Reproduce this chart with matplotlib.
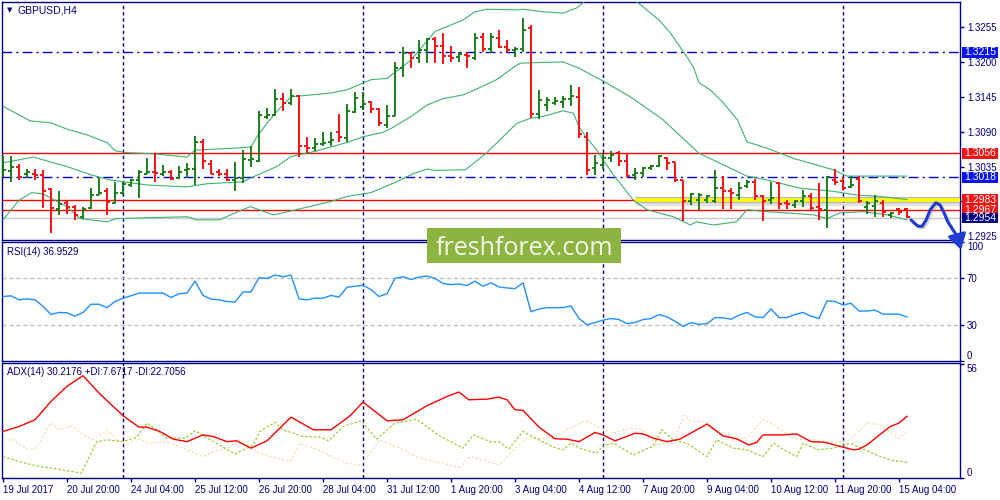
import numpy as np
import matplotlib
matplotlib.use("Agg")
import matplotlib.pyplot as plt
import matplotlib.patches as patches
import matplotlib.patheffects as pe
import matplotlib.transforms as mtransforms
from matplotlib.collections import LineCollection

plt.rcParams['font.family'] = ['Liberation Sans', 'DejaVu Sans']

# ---- GBPUSD H4 bars (open, high, low, close), 19 Jul 12:00 .. 15 Aug 08:00
opens = [1.3022, 1.3028, 1.3035, 1.3023, 1.3024, 1.3022, 1.2999, 1.2968, 1.2977, 1.2972,
         1.2956, 1.2969, 1.2991, 1.2996, 1.2977, 1.2993, 1.3006, 1.3014, 1.3024, 1.3027,
         1.3024, 1.3027, 1.3017, 1.3029, 1.3031, 1.3074, 1.3039, 1.3026, 1.3024, 1.3014,
         1.3017, 1.3045, 1.3044, 1.3113, 1.3116, 1.3142, 1.3135, 1.3146, 1.3068, 1.3064,
         1.3071, 1.3073, 1.3089, 1.3080, 1.3121, 1.3129, 1.3137, 1.3126, 1.3101, 1.3115,
         1.3190, 1.3214, 1.3206, 1.3219, 1.3236, 1.3225, 1.3209, 1.3207, 1.3211, 1.3206,
         1.3239, 1.3220, 1.3237, 1.3224, 1.3218, 1.3221, 1.3253, 1.3118, 1.3132, 1.3136,
         1.3137, 1.3142, 1.3145, 1.3082, 1.3032, 1.3037, 1.3048, 1.3056, 1.3044, 1.3022,
         1.3025, 1.3032, 1.3036, 1.3048, 1.3043, 1.3014, 1.2981, 1.2983, 1.2982, 1.2981,
         1.3001, 1.2996, 1.2990, 1.3004, 1.3011, 1.2988, 1.2982, 1.3009, 1.2977, 1.2975,
         1.2981, 1.2988, 1.2971, 1.2967, 1.3014, 1.3013, 1.3003, 1.3016, 1.2972, 1.2973,
         1.2977, 1.2959, 1.2968, 1.2968]
highs = [1.3052, 1.3051, 1.3039, 1.3031, 1.3031, 1.3029, 1.3001, 1.2996, 1.2980, 1.2975,
         1.2971, 1.3001, 1.3017, 1.3001, 1.3010, 1.3011, 1.3016, 1.3030, 1.3048, 1.3056,
         1.3038, 1.3030, 1.3036, 1.3041, 1.3083, 1.3078, 1.3046, 1.3031, 1.3031, 1.3042,
         1.3061, 1.3067, 1.3123, 1.3127, 1.3157, 1.3151, 1.3158, 1.3148, 1.3081, 1.3080,
         1.3089, 1.3089, 1.3118, 1.3134, 1.3153, 1.3152, 1.3139, 1.3127, 1.3132, 1.3200,
         1.3224, 1.3215, 1.3235, 1.3238, 1.3240, 1.3245, 1.3225, 1.3215, 1.3216, 1.3246,
         1.3245, 1.3245, 1.3251, 1.3235, 1.3224, 1.3269, 1.3258, 1.3155, 1.3144, 1.3145,
         1.3146, 1.3164, 1.3160, 1.3090, 1.3053, 1.3057, 1.3059, 1.3059, 1.3056, 1.3032,
         1.3035, 1.3037, 1.3053, 1.3050, 1.3043, 1.3014, 1.2994, 1.2993, 1.2990, 1.3029,
         1.3020, 1.3002, 1.3011, 1.3014, 1.3015, 1.2990, 1.3011, 1.3011, 1.2982, 1.2983,
         1.2998, 1.2993, 1.3009, 1.3020, 1.3031, 1.3019, 1.3020, 1.3020, 1.2980, 1.2990,
         1.2982, 1.2964, 1.2969, 1.2969]
lows = [1.3019, 1.3011, 1.3014, 1.3017, 1.3014, 1.2969, 1.2931, 1.2959, 1.2961, 1.2951,
        1.2952, 1.2968, 1.2990, 1.2959, 1.2976, 1.2990, 1.3003, 1.2986, 1.3024, 1.3011,
        1.3020, 1.3014, 1.3015, 1.3017, 1.3006, 1.3031, 1.3023, 1.3020, 1.3013, 1.2997,
        1.3009, 1.3034, 1.3043, 1.3110, 1.3114, 1.3123, 1.3132, 1.3050, 1.3056, 1.3059,
        1.3067, 1.3068, 1.3073, 1.3074, 1.3119, 1.3124, 1.3120, 1.3099, 1.3096, 1.3114,
        1.3176, 1.3190, 1.3199, 1.3199, 1.3198, 1.3197, 1.3200, 1.3200, 1.3191, 1.3203,
        1.3215, 1.3214, 1.3222, 1.3216, 1.3208, 1.3216, 1.3111, 1.3110, 1.3122, 1.3132,
        1.3128, 1.3130, 1.3080, 1.3022, 1.3022, 1.3031, 1.3043, 1.3036, 1.3019, 1.3014,
        1.3018, 1.3030, 1.3035, 1.3030, 1.3011, 1.2950, 1.2975, 1.2966, 1.2977, 1.2977,
        1.2968, 1.2968, 1.2982, 1.3002, 1.2982, 1.2950, 1.2976, 1.2968, 1.2968, 1.2969,
        1.2971, 1.2967, 1.2951, 1.2938, 1.3006, 1.2998, 1.3001, 1.2977, 1.2961, 1.2955,
        1.2955, 1.2954, 1.2959, 1.2954]
closes = [1.3029, 1.3035, 1.3019, 1.3026, 1.3022, 1.2997, 1.2969, 1.2976, 1.2972, 1.2959,
          1.2968, 1.2991, 1.2993, 1.2979, 1.2994, 1.3007, 1.3014, 1.3026, 1.3027, 1.3025,
          1.3027, 1.3015, 1.3027, 1.3031, 1.3074, 1.3044, 1.3024, 1.3023, 1.3014, 1.3017,
          1.3047, 1.3047, 1.3116, 1.3116, 1.3141, 1.3135, 1.3146, 1.3068, 1.3064, 1.3071,
          1.3072, 1.3077, 1.3081, 1.3122, 1.3143, 1.3133, 1.3126, 1.3103, 1.3115, 1.3190,
          1.3214, 1.3206, 1.3218, 1.3236, 1.3225, 1.3209, 1.3206, 1.3213, 1.3209, 1.3237,
          1.3220, 1.3239, 1.3224, 1.3218, 1.3221, 1.3250, 1.3118, 1.3140, 1.3140, 1.3139,
          1.3142, 1.3146, 1.3086, 1.3030, 1.3040, 1.3048, 1.3054, 1.3044, 1.3020, 1.3025,
          1.3033, 1.3036, 1.3051, 1.3040, 1.3014, 1.2981, 1.2992, 1.2990, 1.2988, 1.3001,
          1.2997, 1.2993, 1.3002, 1.3010, 1.2988, 1.2980, 1.2985, 1.2976, 1.2976, 1.2980,
          1.2989, 1.2970, 1.2968, 1.3018, 1.3011, 1.3001, 1.3006, 1.2980, 1.2977, 1.2980,
          1.2964, 1.2962, 1.2964, 1.2955]

# Bollinger bands (bar index, price)
bb_upper = [(0, 1.3130), (3.4, 1.3107), (6, 1.3104), (8, 1.3094), (10.5, 1.3085), (13, 1.3073),
            (14, 1.3060), (15.5, 1.3057), (19, 1.3055), (23, 1.3050), (24, 1.3061), (29, 1.3064),
            (31, 1.3066), (32, 1.3087), (34, 1.3119), (36, 1.3145), (41, 1.3151), (43, 1.3156),
            (46, 1.3172), (48, 1.3174), (51, 1.3203), (54, 1.3248), (57.5, 1.3266), (59, 1.3279),
            (60.5, 1.3283), (64, 1.3282), (65, 1.3283), (67.5, 1.3279), (70, 1.3277), (71.7, 1.3285),
            (72.8, 1.3296), (75, 1.3310), (78, 1.3305), (79.4, 1.3293), (82, 1.3266), (83.4, 1.3246),
            (85, 1.3217), (86.3, 1.3192), (87, 1.3167), (88.4, 1.3156), (90, 1.3136), (91.8, 1.3109),
            (93, 1.3074), (95.5, 1.3064), (98.8, 1.3048), (101, 1.3040), (103.8, 1.3030),
            (105.5, 1.3020), (113, 1.3020)]
bb_middle = [(0, 1.3041), (3.8, 1.3050), (8, 1.3035), (11, 1.3022), (13.4, 1.3014), (18, 1.3006),
             (23, 1.3003), (25.5, 1.3008), (30, 1.3011), (31.3, 1.3019), (34.2, 1.3035), (36, 1.3051),
             (39, 1.3059), (43, 1.3073), (45, 1.3082), (47.5, 1.3089), (48.5, 1.3095), (51, 1.3114),
             (53, 1.3132), (55, 1.3142), (57.5, 1.3148), (59, 1.3156), (61.7, 1.3172), (64, 1.3193),
             (64.7, 1.3198), (67, 1.3199), (70, 1.3200), (72, 1.3190), (75, 1.3170), (78.4, 1.3145),
             (82.4, 1.3110), (87, 1.3056), (90, 1.3038), (93, 1.3020), (95.5, 1.3014), (99.6, 1.3001),
             (103.8, 1.2996), (106.8, 1.2990), (109.6, 1.2988), (113, 1.2983)]
bb_lower = [(0, 1.2951), (2, 1.2982), (3.6, 1.2994), (5, 1.2992), (8, 1.2972), (9.6, 1.2953),
            (13, 1.2948), (14.2, 1.2953), (23, 1.2956), (24.2, 1.2951), (27, 1.2951), (30.9, 1.2972),
            (33.8, 1.2959), (36.3, 1.2966), (41, 1.2980), (43, 1.2988), (46, 1.2994), (49.2, 1.3011),
            (51.3, 1.3024), (53, 1.3031), (54, 1.3029), (57.8, 1.3030), (60.4, 1.3056), (64.2, 1.3103),
            (65.9, 1.3111), (67.5, 1.3114), (70, 1.3123), (71.3, 1.3119), (72.1, 1.3095), (74.2, 1.3061),
            (76.3, 1.3022), (78.8, 1.2982), (80.5, 1.2967), (83.8, 1.2956), (85.9, 1.2943),
            (86.7, 1.2948), (88.8, 1.2943), (91.7, 1.2948), (93, 1.2967), (95.5, 1.2964),
            (101.3, 1.2959), (103, 1.2953), (104.6, 1.2962), (107.5, 1.2964), (110.5, 1.2959),
            (113, 1.2951)]

# horizontal levels drawn on the chart
blue_levels = [1.3215, 1.3018]
red_levels = [1.3056, 1.2983, 1.2967]
bid_price = 1.2954
yellow_level = 1.2983
yellow_start = 79
price_tags = [(1.3215, '#0A14F0'), (1.3056, '#F01414'), (1.3018, '#0A14F0'),
              (1.2983, '#F01414'), (1.2967, '#F01414'), (1.2954, '#000080')]
price_ticks = [1.2925, 1.2980, 1.3035, 1.3090, 1.3145, 1.3200, 1.3255]

# hand drawn forecast path (bar index, price)
forecast = [(113.5, 1.2951), (114.0, 1.2945), (114.4, 1.2941), (114.9, 1.2941), (115.4, 1.2951),
            (115.9, 1.2967), (116.6, 1.2978), (117.1, 1.2975), (117.6, 1.2963), (118.1, 1.2948),
            (118.75, 1.2935), (119.3, 1.2925), (119.75, 1.2904)]

# RSI(14) per bar
rsi_vals = [54.2, 54.8, 51.4, 52.2, 51.4, 46.0, 39.1, 40.8, 40.5, 37.7,
            40.8, 47.7, 47.7, 44.8, 50.0, 52.8, 54.8, 57.1, 57.1, 57.1,
            57.1, 53.4, 56.5, 57.1, 67.1, 55.1, 52.0, 51.4, 50.0, 49.4,
            58.0, 58.0, 70.0, 69.4, 72.2, 70.8, 72.2, 52.2, 51.4, 52.8,
            52.8, 55.1, 53.7, 62.0, 62.8, 63.7, 60.0, 54.2, 56.5, 69.4,
            70.8, 68.5, 70.5, 71.4, 69.4, 65.1, 64.2, 64.8, 63.4, 67.1,
            62.8, 65.7, 62.2, 61.4, 60.8, 65.7, 41.4, 43.7, 44.8, 44.8,
            44.8, 46.3, 35.7, 30.5, 32.3, 34.3, 35.7, 34.8, 31.4, 32.3,
            34.8, 35.7, 39.1, 37.1, 33.4, 29.1, 32.3, 30.8, 31.4, 36.5,
            36.3, 35.1, 38.5, 40.8, 37.1, 36.5, 43.7, 36.5, 36.5, 39.1,
            40.8, 37.7, 35.7, 50.5, 50.0, 47.1, 48.5, 42.0, 42.0, 42.8,
            39.4, 39.4, 39.4, 36.95]

# ADX(14), +DI, -DI (bar index, value)
adx_line = [(0, 22.8), (2, 25.2), (4, 28.5), (6, 37.5), (8, 44.9), (10, 50.1), (12, 41.6),
            (15, 30.5), (17, 24.9), (18, 24.9), (19.6, 22.8), (21.3, 19.0), (23, 17.8), (25, 21.1),
            (26.3, 20.3), (28, 17.8), (29.2, 18.2), (31, 14.6), (33, 18.2), (36, 29.8), (38.8, 23.6),
            (41, 23.6), (43.4, 30.5), (45, 37.2), (48, 28.0), (50, 28.5), (53, 35.4), (55.5, 39.9),
            (57, 42.1), (58.2, 38.3), (60.5, 38.6), (62, 39.6), (63, 38.3), (64, 33.4), (65, 33.1),
            (67, 24.9), (69, 19.2), (70.5, 19.0), (72, 17.8), (74, 22.3), (75, 21.1), (76.5, 18.2),
            (79, 21.9), (80, 21.6), (81.3, 19.5), (83, 17.8), (84.6, 19.0), (88, 26.4), (90, 20.6),
            (91.7, 19.2), (93.2, 16.2), (94.2, 17.4), (95, 21.1), (97.5, 21.1), (99.2, 21.6),
            (101, 17.8), (102.7, 17.5), (105, 15.1), (106.3, 13.8), (107, 14.1), (108, 16.2),
            (109.3, 20.3), (110.9, 25.2), (112, 26.9), (113, 30.2)]
plus_di = [(0, 10.5), (2, 8.0), (4.6, 5.6), (7, 4.3), (9.8, 2.3), (11.7, 17.8), (13, 18.7),
           (15, 17.8), (16.7, 20.0), (18, 26.9), (19.2, 23.6), (20.5, 19.5), (22.8, 19.5), (24, 23.2),
           (26.3, 17.8), (29, 11.8), (31.3, 16.2), (32.1, 22.8), (34, 27.3), (35, 23.6), (37.5, 20.3),
           (39.6, 20.0), (40.7, 18.2), (42.5, 25.2), (44.8, 28.0), (46.7, 19.0), (49, 26.9),
           (51.7, 28.8), (54.6, 20.6), (57.5, 14.6), (58.8, 21.1), (60.9, 17.8), (62.1, 17.5),
           (63.2, 14.1), (65, 22.8), (66.3, 20.0), (68.8, 15.1), (70, 13.8), (71, 17.0), (72.1, 14.6),
           (74.2, 12.1), (75, 15.7), (76.3, 17.0), (78.8, 11.3), (81.3, 15.7), (82.3, 23.6),
           (83.8, 18.7), (85.5, 17.0), (88, 10.5), (89.2, 18.7), (91.3, 14.6), (93, 13.8), (95, 10.5),
           (96.3, 17.0), (98, 12.9), (99.2, 10.5), (100, 17.0), (101.9, 13.8), (103.8, 14.6),
           (105.9, 17.0), (107.6, 14.1), (109.2, 11.3), (110.9, 8.8), (113, 7.67)]
minus_di = [(0, 18.7), (1.3, 18.7), (3, 14.1), (4.2, 14.6), (5.9, 26.9), (7.1, 23.6), (8.6, 25.5),
            (10, 21.1), (11.3, 18.7), (13, 23.6), (14.2, 18.7), (15.5, 16.2), (16.7, 19.5),
            (18.4, 17.0), (20.5, 17.8), (22.5, 14.6), (25, 10.5), (26.3, 12.9), (28.4, 15.1),
            (29.4, 18.7), (32.1, 12.1), (35.9, 8.0), (37.1, 17.0), (39.2, 14.1), (41.3, 10.2),
            (43, 7.2), (44.8, 6.4), (47.1, 18.7), (49.6, 14.6), (52.1, 9.7), (57.1, 5.2), (58.4, 10.5),
            (62.1, 6.4), (63.8, 13.8), (65.5, 19.5), (68.8, 19.5), (70.5, 23.6), (72.9, 28.2),
            (74.6, 24.4), (76.3, 21.9), (78.4, 24.4), (80, 23.6), (81.7, 16.2), (83.8, 17.0),
            (85.1, 30.9), (86, 27.7), (87.6, 27.7), (89.2, 23.6), (91.3, 18.7), (93, 19.5), (95, 28.8),
            (96.7, 25.2), (98.8, 19.5), (100, 18.7), (101.6, 18.7), (103.8, 17.0), (105.9, 18.7),
            (108, 26.9), (109.6, 26.0), (112, 19.5), (113, 22.7)]

# time axis
xtick_idx = [0, 8, 16, 24, 32, 40, 48, 56, 64, 72, 80, 88, 96, 104, 112]
xtick_labels = ['19 Jul 2017', '20 Jul 20:00', '24 Jul 04:00', '25 Jul 12:00', '26 Jul 20:00',
                '28 Jul 04:00', '31 Jul 12:00', '1 Aug 20:00', '3 Aug 04:00', '4 Aug 12:00',
                '7 Aug 20:00', '9 Aug 04:00', '10 Aug 12:00', '11 Aug 20:00', '15 Aug 04:00']
week_starts = [15, 45, 75, 105]

symbol_label = 'GBPUSD,H4'
rsi_label = 'RSI(14) 36.9529'
adx_label = 'ADX(14) 30.2176 +DI:7.6717 -DI:22.7056'

NAVY = '#000080'
GREEN = '#0A780A'
RED = '#FF0000'
BB_COLOR = '#3CB371'

fig = plt.figure(figsize=(10, 5), dpi=100)
ax = fig.add_axes([0.002, 0.521, 0.958, 0.475])
ax_rsi = fig.add_axes([0.002, 0.278, 0.958, 0.238])
ax_adx = fig.add_axes([0.002, 0.044, 0.958, 0.23])
ax.set_zorder(3)

n = len(closes)
idx = np.arange(n)
xlim = (-0.125, 119.625)

for a in (ax, ax_rsi, ax_adx):
    a.set_xlim(*xlim)
    for s in a.spines.values():
        s.set_color(NAVY)
        s.set_linewidth(1)
    a.yaxis.tick_right()
    a.tick_params(axis='y', direction='out', length=3, width=1, colors=NAVY,
                  labelsize=7, pad=2)
    for w in week_starts:
        a.axvline(w, color=NAVY, lw=1, ls=(0, (2.5, 2)), zorder=1)

# ---- price panel
ylo, yhi = 1.29201, 1.32944
ax.set_ylim(ylo, yhi)
ax.set_xticks([])
ax.set_yticks(price_ticks)
ax.set_yticklabels(['' if abs(t - 1.2980) < 1e-6 else f'{t:.4f}' for t in price_ticks])

for lvl in blue_levels:
    ax.axhline(lvl, color='#0000CD', lw=1, ls=(0, (7, 3, 1.5, 3)), zorder=2)
ax.axhline(bid_price, color='#C8C8C8', lw=1, zorder=2)
for lvl in red_levels:
    ax.axhline(lvl, color=RED, lw=1, zorder=2.4)
# highlighted support line with a soft grey shadow, drawn over the red level
ax.hlines(yellow_level, yellow_start, xlim[1], color='#FFFF00', lw=2.6, zorder=2.6,
          path_effects=[pe.Stroke(linewidth=6.5, foreground='#9A9A9A', alpha=0.3, offset=(0, -1)),
                        pe.Stroke(linewidth=4.5, foreground='#A0A0A0', alpha=0.6, offset=(0, -0.5)),
                        pe.Normal()])

for band in (bb_upper, bb_middle, bb_lower):
    bx, by = zip(*band)
    ax.plot(bx, by, color=BB_COLOR, lw=0.8, zorder=3)

segs, cols = [], []
for i in range(n):
    c = GREEN if closes[i] >= opens[i] else RED
    segs.append([(i, lows[i]), (i, highs[i])])
    segs.append([(i - 0.4, opens[i]), (i, opens[i])])
    segs.append([(i, closes[i]), (i + 0.4, closes[i])])
    cols += [c, c, c]
ax.add_collection(LineCollection(segs, colors=cols, linewidths=1.3, capstyle='butt', zorder=4))

# price tags on the right axis
trans = mtransforms.blended_transform_factory(ax.transAxes, ax.transData)
tag_h = (yhi - ylo) * 10.5 / 237.5
for val, bg in price_tags:
    ax.add_patch(patches.Rectangle((1.002, val - tag_h / 2), 0.0376, tag_h, transform=trans,
                                   facecolor=bg, edgecolor='none', clip_on=False, zorder=10))
    ax.text(1.0208, val, f'{val:.4f}', transform=trans, ha='center', va='center', color='white',
            fontsize=7.5, clip_on=False, zorder=11)

fx, fy = zip(*forecast)
arrow_fx = [pe.SimpleLineShadow(offset=(1.2, -1.2), shadow_color='#888888', alpha=0.35), pe.Normal()]
ax.plot(fx[:-1], fy[:-1], color='#1E3CD2', lw=2.2, solid_capstyle='round',
        solid_joinstyle='round', clip_on=False, zorder=12, path_effects=arrow_fx)
ax.annotate('', xy=(fx[-1], fy[-1]), xytext=(fx[-2], fy[-2]), annotation_clip=False, zorder=12,
            arrowprops=dict(arrowstyle='-|>,head_length=0.9,head_width=0.55', color='#1E3CD2',
                            lw=2.2, shrinkA=0, shrinkB=0, clip_on=False))

ax.text(0.0078, 0.966, '\u25bc', transform=ax.transAxes, ha='center', va='center',
        fontsize=5, color=NAVY, family='DejaVu Sans')
ax.text(0.0167, 0.966, symbol_label, transform=ax.transAxes, ha='left', va='center',
        fontsize=7.5, color=NAVY)

# ---- RSI panel
ax_rsi.set_ylim(0, 100)
ax_rsi.set_xticks([])
ax_rsi.axhline(70, color='#C0C0C0', lw=1, ls=(0, (3, 2)), zorder=1)
ax_rsi.axhline(30, color='#C0C0C0', lw=1, ls=(0, (3, 2)), zorder=1)
ax_rsi.plot(idx, rsi_vals, color='#1E90FF', lw=1, zorder=3)
ax_rsi.set_yticks([0, 30, 70, 100])
ax_rsi.set_yticklabels(['0', '30', '70', '100'])
lbls = ax_rsi.get_yticklabels()
lbls[0].set_va('bottom')
lbls[3].set_va('top')
ax_rsi.text(0.0052, 0.92, rsi_label, transform=ax_rsi.transAxes, ha='left', va='center',
            fontsize=7, color=NAVY)

# ---- ADX panel
ax_adx.set_ylim(0, 56.3)
for pts, col, ls, lw in ((minus_di, '#F5DEB3', (0, (2, 1.5)), 0.9),
                         (plus_di, '#9ACD32', (0, (2, 1.5)), 0.9),
                         (adx_line, '#FF0000', '-', 1.0)):
    px, py = zip(*pts)
    ax_adx.plot(px, py, color=col, ls=ls, lw=lw, zorder=3)
ax_adx.set_yticks([0, 56])
ax_adx.set_yticklabels(['0', '56'])
albl = ax_adx.get_yticklabels()
albl[0].set_va('bottom')
albl[1].set_va('top')
ax_adx.set_xticks(xtick_idx)
ax_adx.set_xticklabels(xtick_labels, ha='left')
ax_adx.tick_params(axis='x', direction='out', length=3, width=1, colors=NAVY, labelsize=7, pad=2)
ax_adx.text(0.0052, 0.922, adx_label, transform=ax_adx.transAxes, ha='left', va='center',
            fontsize=7, color=NAVY, zorder=5)

# ---- watermark
fig.patches.append(patches.Rectangle((0.427, 0.474), 0.194, 0.07, transform=fig.transFigure,
                                     facecolor='#8DB441', edgecolor='none', zorder=20))
fig.text(0.524, 0.49, 'freshforex.com', ha='center', va='baseline', fontsize=18,
         family=['Open Sans', 'DejaVu Sans'], color='#F4F8EC', zorder=21)

fig.savefig('out.png', dpi=100)
